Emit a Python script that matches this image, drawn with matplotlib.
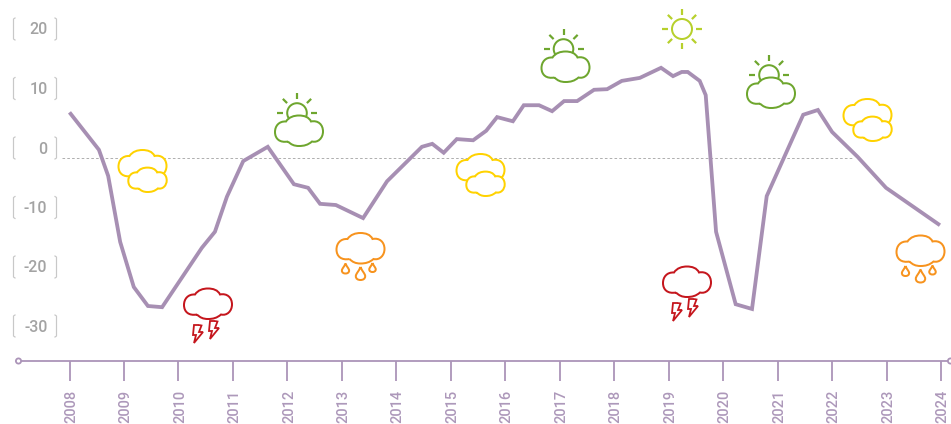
import numpy as np
import matplotlib
matplotlib.use('Agg')
import matplotlib.pyplot as plt
from matplotlib.path import Path
from matplotlib.patches import PathPatch, Circle

plt.rcParams['font.family'] = ['Roboto', 'DejaVu Sans']

# values
years = [2008.0, 2008.54, 2008.71, 2008.93, 2009.18, 2009.44, 2009.70, 2010.43, 2010.67, 2010.89,
         2011.19, 2011.64, 2012.12, 2012.38, 2012.60, 2012.89, 2013.39, 2013.83, 2014.47, 2014.66,
         2014.87, 2015.11, 2015.41, 2015.65, 2015.85, 2016.14, 2016.34, 2016.62, 2016.86, 2017.08,
         2017.32, 2017.63, 2017.87, 2018.14, 2018.47, 2018.86, 2019.08, 2019.24, 2019.35, 2019.57,
         2019.68, 2019.87, 2020.23, 2020.53, 2020.80, 2021.47, 2021.74, 2022.0, 2022.47, 2022.99, 2023.98]
values = [7.6, 1.3, -3.1, -14.2, -21.8, -25.0, -25.2, -15.2, -12.5, -6.6,
          -0.6, 1.8, -4.5, -5.1, -7.8, -8.0, -10.2, -4.0, 1.8, 2.3,
          0.8, 3.1, 2.9, 4.5, 6.8, 6.1, 8.8, 8.8, 7.8, 9.5,
          9.5, 11.4, 11.5, 12.9, 13.4, 15.1, 13.7, 14.4, 14.4, 12.9,
          10.5, -12.5, -24.7, -25.5, -6.5, 7.2, 8.0, 4.3, 0.1, -5.1, -11.4]
x_ticks = list(range(2008, 2025))
y_labels = ['20', '10', '0', '-10', '-20', '-30']
y_label_pos = [29, 88.5, 148, 207.5, 267, 326]

# icons: pixel centres of the clouds
two_clouds = [(142.5, 165.5), (480.5, 169.5), (867.5, 114.5)]
sun_clouds = [(299, 131), (565.5, 67), (771, 93)]
storm_clouds = [(208, 304), (687, 282)]
rain_clouds = [(360.5, 248.5), (920.5, 251)]
sun_only = [(682, 29)]

LINE = '#a78fb3'
AXIS = '#ab94b8'
GREY = '#a3a3a3'
YELLOW = '#ffd200'
GREEN = '#6ea62e'
LIME = '#b7d02c'
RED = '#c5161d'
ORANGE = '#f7931e'
W, H = 951, 424

fig = plt.figure(figsize=(W / 100, H / 100), dpi=100)
ax = fig.add_axes([0, 0, 1, 1])
# 2008 is at x=69.5 and one year is 54.47 px, zero is at y=157.5 and 10 units are 59.4 px
ax.set_xlim(2008 - 69.5 / 54.47, 2008 + (W - 69.5) / 54.47)
ax.set_ylim((157.5 - H) / 5.94, 157.5 / 5.94)
ax.axis('off')

# overlay in pixel coordinates for the decoration
ov = fig.add_axes([0, 0, 1, 1], zorder=3)
ov.set_xlim(0, W)
ov.set_ylim(H, 0)
ov.axis('off')
ov.patch.set_alpha(0)

px = 0.72  # one pixel in points


def cloud(cx, cy, color, s=1.0, lw=2.0):
    c3 = Path.CURVE4
    pts = [(-11, 10.5),
           (-19, 12), (-24, 8), (-24, 1),
           (-24, -5), (-20, -10), (-13, -9.5),
           (-10, -14), (-5, -15.5), (0, -15.5),
           (5, -15.5), (10, -14), (12, -9.5),
           (19, -11), (24, -6.5), (24, 0.5),
           (24, 7), (19, 12), (13, 10.5),
           (9, 14), (5, 15), (0, 15),
           (-5, 15), (-8, 13.5), (-11, 10.5)]
    codes = [Path.MOVETO] + [c3] * (len(pts) - 1)
    verts = [(cx + s * a, cy + s * b) for a, b in pts]
    ov.add_patch(PathPatch(Path(verts, codes), fc='white', ec=color, lw=lw * px, zorder=5))


def rays(cx, cy, angles, color, r0=14, r1=20):
    for a in angles:
        t = np.deg2rad(a)
        ov.plot([cx + r0 * np.cos(t), cx + r1 * np.cos(t)], [cy - r0 * np.sin(t), cy - r1 * np.sin(t)],
                color=color, lw=2.2 * px, solid_capstyle='butt', zorder=4)


def bolt(cx, cy):
    pts = [(1, -9), (-4, -9), (-5, 1), (-2, 1), (-4, 9), (5, -2), (1, -2), (3.5, -8.5), (1, -9)]
    ov.add_patch(PathPatch(Path([(cx + a, cy + b) for a, b in pts]), fc='white', ec=RED, lw=1.8 * px, zorder=5))


def drop(cx, cy, h):
    t = h / 2
    w = h * 0.36
    verts = [(cx, cy - t), (cx + w * 0.4, cy - t * 0.3), (cx + w, cy + t * 0.05), (cx + w, cy + t * 0.4),
             (cx + w, cy + t * 0.85), (cx + w * 0.5, cy + t), (cx, cy + t),
             (cx - w * 0.5, cy + t), (cx - w, cy + t * 0.85), (cx - w, cy + t * 0.4),
             (cx - w, cy + t * 0.05), (cx - w * 0.4, cy - t * 0.3), (cx, cy - t)]
    codes = [Path.MOVETO] + [Path.CURVE4] * 12
    ov.add_patch(PathPatch(Path(verts, codes), fc='white', ec=ORANGE, lw=2 * px, zorder=5))


# dotted zero line and the main curve
ax.plot([2008 + (62 - 69.5) / 54.47, 2008 + (852 - 69.5) / 54.47], [0, 0], color='#b0b0b0', lw=1 * px, dashes=(2.6, 2.2), zorder=1)
ax.plot(years, values, color=LINE, lw=3.8 * px, solid_joinstyle='miter', solid_capstyle='butt', zorder=2)

# x axis
ov.plot([21, W], [361, 361], color=AXIS, lw=1.8 * px, zorder=2)
ov.add_patch(Circle((18.5, 361), 2.6, fc='white', ec=AXIS, lw=1.8 * px, zorder=3))
ov.add_patch(Circle((950.5, 361), 2.6, fc='white', ec=AXIS, lw=1.8 * px, zorder=3))
for y in x_ticks:
    x = 69.5 + (y - 2008) * 54.47
    ov.plot([x, x], [361, 381], color=AXIS, lw=1.8 * px, solid_capstyle='butt', zorder=2)
    ov.text(x + 1.5, 389.5, str(y), rotation=90, ha='center', va='top', fontsize=10.5, color='#ad98ba', fontweight='medium')

# y labels with their brackets
for lab, yp in zip(y_labels, y_label_pos):
    ov.text(47.5, yp + 1, lab, ha='right', va='center', fontsize=11.5, color=GREY, fontweight='medium')
    ov.plot([15, 13.5, 13.5, 15], [yp - 11, yp - 10, yp + 10, yp + 11], color='#c8c8c8', lw=1.2 * px)
    ov.plot([55, 56.5, 56.5, 55], [yp - 11, yp - 10, yp + 10, yp + 11], color='#c8c8c8', lw=1.2 * px)

# weather icons
for cx, cy in two_clouds:
    cloud(cx, cy, YELLOW)
    cloud(cx + 5, cy + 14.5, YELLOW, s=0.8)

for cx, cy in sun_clouds:
    sx, sy = cx - 2, cy - 18
    ov.add_patch(Circle((sx, sy), 9.8, fc='white', ec=GREEN, lw=2 * px, zorder=4))
    rays(sx, sy, [0, 45, 90, 135, 180], GREEN)
    cloud(cx, cy, GREEN)

for cx, cy in sun_only:
    ov.add_patch(Circle((cx, cy), 10, fc='white', ec=LIME, lw=2 * px, zorder=4))
    rays(cx, cy, range(0, 360, 45), LIME)

for cx, cy in storm_clouds:
    cloud(cx, cy, RED)
    bolt(cx - 10, cy + 30)
    bolt(cx + 6, cy + 26)

for cx, cy in rain_clouds:
    cloud(cx, cy, ORANGE)
    drop(cx - 15, cy + 20, 10)
    drop(cx, cy + 25, 13)
    drop(cx + 12, cy + 19, 9)

fig.savefig('out.png', dpi=100)
